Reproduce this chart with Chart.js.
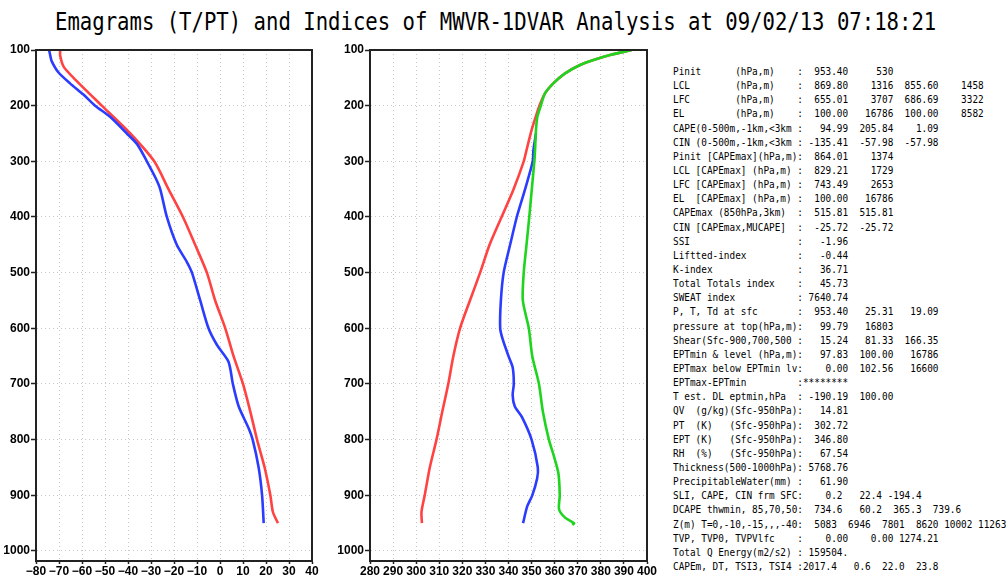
<!DOCTYPE html>
<html>
<head>
<meta charset="utf-8">
<script src="https://cdn.jsdelivr.net/npm/chart.js@4"></script>
<style>
	body { margin: 0; background: #fff; width: 1008px; height: 579px; position: relative; overflow: hidden; }
	#title { position: absolute; left: 55px; top: 10px; font: 24px/24px "DejaVu Sans Mono", monospace; white-space: pre; color: #000; transform: scaleX(0.859); transform-origin: 0 0; }
	.wrap { position: absolute; top: 40px; width: 330px; height: 539px; }
	#info { position: absolute; left: 673px; top: 65px; margin: 0; color: #000; font: 11px/14.14px "DejaVu Sans Mono", monospace; transform: scaleX(0.853); transform-origin: 0 0; }
</style>
</head>
<body>
<div id="title">Emagrams (T/PT) and Indices of MWVR-1DVAR Analysis at 09/02/13 07:18:21</div>
<div class="wrap" style="left:0px"><canvas id="emagram" width="330" height="539"></canvas></div>
<div class="wrap" style="left:330px"><canvas id="ptgram" width="330" height="539"></canvas></div>
<pre id="info"></pre>
<script>
// tick labels
var pressureTicks = [100, 200, 300, 400, 500, 600, 700, 800, 900, 1000];
var tempTicks = [-80, -70, -60, -50, -40, -30, -20, -10, 0, 10, 20, 30, 40];
var ptTicks = [280, 290, 300, 310, 320, 330, 340, 350, 360, 370, 380, 390, 400];

// left panel: temperature and dew point (C)
var tLevels = [100, 110, 130, 150, 200, 250, 300, 350, 400, 450, 500, 550, 600, 650, 700, 750, 800, 850, 900, 930, 950];
var tValues = [-69.5, -69.5, -68, -63.7, -51.4, -39, -28.6, -22.4, -16.1, -10.8, -5.7, -2.1, 2.3, 5.9, 10, 13.2, 16.1, 19.4, 21.9, 23, 25.2];
var tdLevels = [100, 110, 120, 140, 160, 180, 200, 220, 250, 270, 300, 330, 350, 400, 450, 480, 500, 550, 600, 630, 660, 700, 740, 780, 800, 850, 900, 950];
var tdValues = [-74.3, -73.8, -73.2, -70.3, -65.2, -59.4, -54.3, -47.8, -40.5, -35.9, -31.8, -28, -26, -23.1, -18.8, -14.5, -12.2, -8.6, -5, -1.3, 3.7, 5.6, 8.1, 12.5, 14.2, 16.8, 18.3, 19];

// right panel: potential temperatures (K)
var ptLevels = [100, 109, 118, 127, 142, 160, 178, 200, 220, 244, 280, 300, 350, 400, 450, 500, 550, 600, 650, 700, 750, 800, 850, 900, 930, 950];
var ptValues = [393.4, 384, 376.8, 371, 364.5, 359.4, 355.8, 353.4, 351.8, 350, 347.8, 346.6, 342.2, 337, 331.8, 327.7, 323.3, 319, 316.1, 313.9, 311.3, 308.8, 305.9, 303.7, 302.3, 302.5];
var blueLevels = [250, 280, 300, 350, 400, 450, 500, 550, 600, 620, 650, 670, 700, 720, 740, 760, 800, 850, 870, 900, 920, 950];
var blueValues = [351.9, 350.8, 350.5, 347.2, 343.6, 340.7, 337.9, 336.7, 336.4, 337.5, 340, 341.8, 342.3, 341.8, 342.7, 345.9, 350, 352.7, 352.4, 350.3, 348.1, 346.3];
var eptLevels = [100, 109, 118, 127, 142, 160, 178, 200, 220, 244, 280, 300, 350, 400, 450, 500, 550, 600, 650, 700, 750, 800, 830, 860, 900, 925, 940, 950, 953];
var eptValues = [393.4, 384, 376.8, 371, 364.5, 359.4, 355.8, 354, 352.5, 351.9, 351.5, 351.2, 350.1, 349, 347.8, 346.6, 346.2, 348.8, 350.3, 353.2, 354.9, 357.5, 359.7, 361.6, 362.2, 361.9, 364.5, 368.4, 367.6];

var infoLines = [
	"Pinit      (hPa,m)    :  953.40     530",
	"LCL        (hPa,m)    :  869.80    1316  855.60    1458",
	"LFC        (hPa,m)    :  655.01    3707  686.69    3322",
	"EL         (hPa,m)    :  100.00   16786  100.00    8582",
	"CAPE(0-500m,-1km,<3km :   94.99  205.84    1.09",
	"CIN (0-500m,-1km,<3km : -135.41  -57.98  -57.98",
	"Pinit [CAPEmax](hPa,m):  864.01    1374",
	"LCL [CAPEmax] (hPa,m) :  829.21    1729",
	"LFC [CAPEmax] (hPa,m) :  743.49    2653",
	"EL  [CAPEmax] (hPa,m) :  100.00   16786",
	"CAPEmax (850hPa,3km)  :  515.81  515.81",
	"CIN [CAPEmax,MUCAPE]  :  -25.72  -25.72",
	"SSI                   :   -1.96",
	"Liftted-index         :   -0.44",
	"K-index               :   36.71",
	"Total Totals index    :   45.73",
	"SWEAT index           : 7640.74",
	"P, T, Td at sfc       :  953.40   25.31   19.09",
	"pressure at top(hPa,m):   99.79   16803",
	"Shear(Sfc-900,700,500 :   15.24   81.33  166.35",
	"EPTmin & level (hPa,m):   97.83  100.00   16786",
	"EPTmax below EPTmin lv:    0.00  102.56   16600",
	"EPTmax-EPTmin         :********",
	"T est. DL eptmin,hPa  : -190.19  100.00",
	"QV  (g/kg)(Sfc-950hPa):   14.81",
	"PT  (K)   (Sfc-950hPa):  302.72",
	"EPT (K)   (Sfc-950hPa):  346.80",
	"RH  (%)   (Sfc-950hPa):   67.54",
	"Thickness(500-1000hPa): 5768.76",
	"PrecipitableWater(mm) :   61.90",
	"SLI, CAPE, CIN frm SFC:    0.2   22.4 -194.4",
	"DCAPE thwmin, 85,70,50:  734.6   60.2  365.3  739.6",
	"Z(m) T=0,-10,-15,,,-40:  5083  6946  7801  8620 10002 11263",
	"TVP, TVP0, TVPVlfc    :    0.00    0.00 1274.21",
	"Total Q Energy(m2/s2) : 159504.",
	"CAPEm, DT, TSI3, TSI4 :2017.4   0.6  22.0  23.8"
];
document.getElementById('info').textContent = infoLines.join('\n');

function pairs(values, levels) {
	return values.map(function (v, i) { return { x: v, y: levels[i] }; });
}

function line(values, levels, color) {
	return {
		data: pairs(values, levels),
		showLine: true,
		borderColor: color,
		borderWidth: 2.6,
		pointRadius: 0,
		tension: 0.25,
		fill: false
	};
}

var frame = {
	id: 'frame',
	afterDatasetsDraw: function (chart) {
		var ctx = chart.ctx, a = chart.chartArea;
		ctx.save();
		ctx.strokeStyle = '#222';
		ctx.lineWidth = 2;
		ctx.strokeRect(a.left, a.top, a.right - a.left, a.bottom - a.top);
		ctx.restore();
	}
};

var tickFont = { family: 'Liberation Sans', size: 12, weight: 'bold' };

function options(xMin, xMax, xTicks, yWidth, padRight) {
	return {
		responsive: false,
		animation: false,
		layout: { padding: { left: 0, right: padRight, top: 10, bottom: 0 } },
		plugins: { legend: { display: false }, tooltip: { enabled: false } },
		scales: {
			x: {
				type: 'linear', min: xMin, max: xMax,
				afterBuildTicks: function (s) { s.ticks = xTicks.map(function (v) { return { value: v }; }); },
				afterFit: function (s) { s.height = 18; },
				grid: { color: '#c8c8c8', lineWidth: 1, tickColor: '#222', tickLength: 3, tickWidth: 1.5 },
				border: { display: true, color: '#222', width: 2, dash: [1, 3] },
				ticks: {
					autoSkip: false, maxRotation: 0, padding: 0, color: '#000', font: tickFont,
					callback: function (v) { return String(v).replace('-', '\u2212'); }
				}
			},
			y: {
				type: 'linear', reverse: true, min: 100, max: 1018,
				afterBuildTicks: function (s) { s.ticks = pressureTicks.map(function (v) { return { value: v }; }); },
				afterFit: function (s) { s.width = yWidth; },
				grid: { color: '#c8c8c8', lineWidth: 1, tickColor: '#222', tickLength: 5, tickWidth: 1.5 },
				border: { display: true, color: '#222', width: 2, dash: [1, 3] },
				ticks: {
					autoSkip: false, padding: 1, color: '#000', font: tickFont,
					callback: function (v) { return String(v); }
				}
			}
		}
	};
}

new Chart(document.getElementById('emagram'), {
	type: 'scatter',
	data: {
		datasets: [
			line(tdValues, tdLevels, '#2b3cff'),
			line(tValues, tLevels, '#ff4343')
		]
	},
	options: options(-80, 40, tempTicks, 36, 18),
	plugins: [frame]
});

new Chart(document.getElementById('ptgram'), {
	type: 'scatter',
	data: {
		datasets: [
			line(eptValues, eptLevels, '#1fd41f'),
			line(ptValues, ptLevels, '#ff4343'),
			line(blueValues, blueLevels, '#2b3cff')
		]
	},
	options: options(280, 400, ptTicks, 40, 13),
	plugins: [frame]
});
</script>
</body>
</html>
